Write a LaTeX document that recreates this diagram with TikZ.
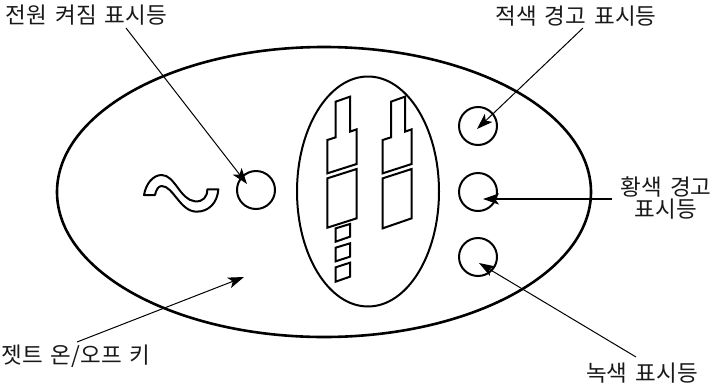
\documentclass[tikz,border=0pt]{standalone}
\usepackage{fontspec}
\usetikzlibrary{arrows.meta}
\setmainfont[WordSpace=1.6]{Noto Sans CJK KR}
\tikzset{
  panel/.style={draw=black,line width=2.6pt,fill=none},
  part/.style={draw=black,line width=2pt,line join=miter},
  lamp/.style={circle,draw=black,line width=2pt,minimum size=38pt,inner sep=0pt},
  leader/.style={draw=black,line width=1pt,-{Stealth[length=16pt,width=11pt,inset=4pt]}},
  caption/.style={font=\fontsize{22.5}{22}\selectfont,align=center,inner sep=0pt,text=black!90},
  zoomed/.style={x=0.33333pt,y=-0.33333pt}
}
\begin{document}
\begin{tikzpicture}[x=1pt,y=-1pt]
\useasboundingbox (0,0) rectangle (715,386);
\draw[panel] (324,192) ellipse [x radius=267,y radius=145];
\draw[part] (368,191.5) ellipse [x radius=71,y radius=115];
% jet slot shapes
\begin{scope}[shift={(290pt,-60pt)},zoomed]
\draw[part] (137,125)--(180,110)--(180,215)--(200,208)--(200,312)--(112,340)--(112,240)--(137,232)--cycle;
\draw[part] (112,355)--(200,327)--(200,475)--(112,503)--cycle;
\draw[part] (303,125)--(345,110)--(345,215)--(365,208)--(365,312)--(278,340)--(278,240)--(303,232)--cycle;
\draw[part] (278,355)--(365,327)--(365,475)--(278,505)--cycle;
\draw[part] (137,505)--(180,492)--(180,530)--(137,545)--cycle;
\draw[part] (137,563)--(180,550)--(180,590)--(137,604)--cycle;
\draw[part] (137,622)--(180,608)--(180,650)--(137,665)--cycle;
\end{scope}
% AC symbol
\begin{scope}[shift={(130pt,-160pt)},zoomed]
\draw[part,line join=round] (42,105) .. controls (48,70) and (70,45) .. (95,45)
  .. controls (135,45) and (150,120) .. (195,124)
  .. controls (220,126) and (232,110) .. (232,88)
  -- (265,88)
  .. controls (262,130) and (235,155) .. (200,155)
  .. controls (150,155) and (130,78) .. (95,78)
  .. controls (85,78) and (78,90) .. (75,105) -- cycle;
\end{scope}
\node[lamp] (power) at (256,190) {};
\node[lamp] (red) at (478,126) {};
\node[lamp] (yellow) at (478,192) {};
\node[lamp] (green) at (478,257) {};
\node[caption,anchor=center] (lpower) at (86.5,15) {전원 켜짐 표시등};
\node[caption] (lred) at (576,16) {적색 경고 표시등};
\node[caption] (lyellow) at (666,198) {황색 경고\\표시등};
\node[caption] (lgreen) at (642,373) {녹색 표시등};
\node[caption,anchor=center] (ljet) at (76,356) {젯트 온/오프 키};
\coordinate (a1) at (126,28);
\coordinate (b1) at (247,184);
\coordinate (a2) at (583,28);
\coordinate (b2) at (477,129);
\coordinate (a3) at (612,199);
\coordinate (b3) at (483,199);
\coordinate (a4) at (636,357);
\coordinate (b4) at (479,263);
\coordinate (a5) at (77,342);
\coordinate (b5) at (244,277);
\draw[leader] (a1)--(b1);
\draw[leader] (a2)--(b2);
\draw[leader,line width=2pt] (a3)--(b3);
\draw[leader] (a4)--(b4);
\draw[leader] (a5)--(b5);
\end{tikzpicture}
\end{document}
